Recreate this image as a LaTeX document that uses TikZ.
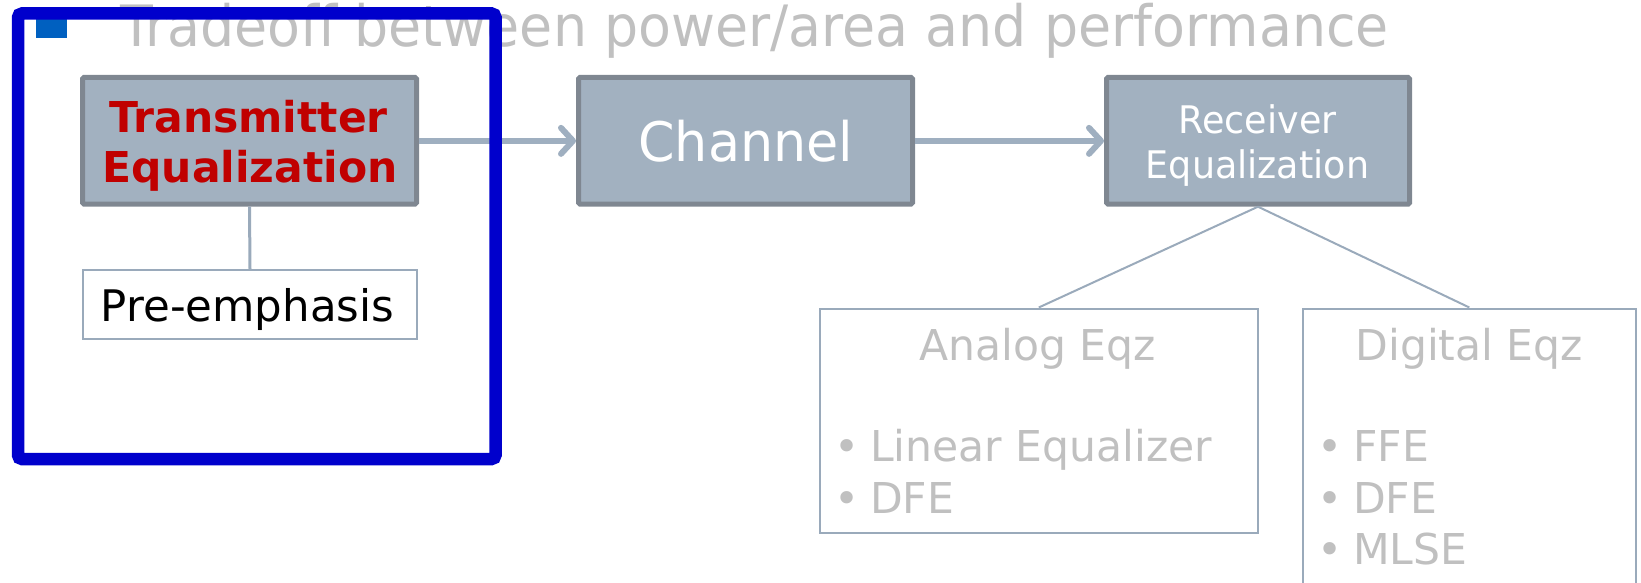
\documentclass[tikz,border=0pt]{standalone}
\usepackage{fontspec}
\setmainfont{DejaVu Sans}
\newfontfamily\narrowfont[FakeStretch=0.96]{DejaVu Sans}
\newfontfamily\headfont[FakeStretch=0.944]{DejaVu Sans}
\usetikzlibrary{arrows.meta}

\definecolor{boxfill}{HTML}{A2B1C0}
\definecolor{boxline}{HTML}{7F8791}
\definecolor{flowc}{HTML}{9FAFC0}
\definecolor{thinline}{HTML}{9AAABB}
\definecolor{softgray}{HTML}{C0C0C0}
\definecolor{txred}{HTML}{C00000}
\definecolor{framec}{HTML}{0000CC}
\definecolor{bulletsq}{HTML}{0060C0}

\newcommand{\setfs}[1]{\fontsize{#1}{#1}\selectfont}

\tikzset{
  mainbox/.style={draw=boxline, fill=boxfill, line width=5pt, rounded corners=1.5pt,
    inner sep=0pt, minimum height=126.7pt},
  subbox/.style={draw=thinline, fill=white, line width=2pt, inner sep=0pt},
  line/.style={inner sep=0pt, anchor=base},
  itemline/.style={inner sep=0pt, anchor=base west, text=softgray},
  flow/.style={draw=flowc, line width=6pt,
    -{Straight Barb[length=12pt, width=26pt, line cap=round, line join=round]}},
  tie/.style={draw=thinline, line width=2pt},
}

\begin{document}
\begin{tikzpicture}[x=1pt, y=-1pt]
\useasboundingbox (0,0) rectangle (1641,583);

% heading
\node[inner sep=0pt, anchor=base east, text=softgray] (head) at (1389,47)
  {\headfont\setfs{57}Tradeoff between power/area and performance};
\fill[bulletsq] (36,7) rectangle (67,38);

% main chain
\node[mainbox, minimum width=334pt] (tx) at (249.5,140.85) {};
\node[mainbox, minimum width=334pt] (ch) at (745.5,140.85) {};
\node[mainbox, minimum width=303pt] (rx) at (1258,140.85) {};

\node[line, text=txred] (txa) at (248.5,132.7) {\setfs{42.5}\bfseries Transmitter};
\node[line, text=txred] (txb) at (250,182.7) {\setfs{42.5}\bfseries Equalization};
\node[line, text=white] (cht) at (745.8,161.7) {\narrowfont\setfs{54.5}Channel};
\node[line, text=white] (rxa) at (1257.5,133.3) {\narrowfont\setfs{38}Receiver};
\node[line, text=white] (rxb) at (1257.5,178.3) {\narrowfont\setfs{38}Equalization};

% branches
\node[subbox, minimum width=334.6pt, minimum height=69pt] (pre) at (250,304.5) {};
\node[subbox, minimum width=437.9pt, minimum height=224.5pt] (an) at (1038.75,420.75) {};
\node[subbox, minimum width=333.3pt, minimum height=310.5pt] (dg) at (1469.35,463.75) {};

\node[line, text=black] (pret) at (247.5,321.7) {\setfs{43.5}Pre-emphasis};
\node[line, text=softgray] (ant) at (1037.5,360.7) {\setfs{42.5}Analog Eqz};
\node[line, text=softgray] (dgt) at (1469.2,360.7) {\setfs{42.5}Digital Eqz};

\node[itemline] (an1) at (834,461.7) {\setfs{42.5}\makebox[36pt][l]{\textbullet}Linear Equalizer};
\node[itemline] (an2) at (834,513.2) {\setfs{42.5}\makebox[36pt][l]{\textbullet}DFE};
\node[itemline] (dg1) at (1317,461.7) {\setfs{42.5}\makebox[36pt][l]{\textbullet}FFE};
\node[itemline] (dg2) at (1317,513.2) {\setfs{42.5}\makebox[36pt][l]{\textbullet}DFE};
\node[itemline] (dg3) at (1317,564.7) {\setfs{42.5}\makebox[36pt][l]{\textbullet}MLSE};

% connectors
\draw[flow] (tx.east) -- (ch.west);
\draw[flow] (ch.east) -- (rx.west);
\draw[tie, line width=3pt] (tx.south) -- (pre.north);
\draw[tie] (rx.south) -- (an.north);
\draw[tie] (rx.south) -- (dg.north);

% highlight frame
\draw[framec, line width=12.5pt, rounded corners=4pt] (18,13.5) rectangle (495.5,459);
\end{tikzpicture}
\end{document}
